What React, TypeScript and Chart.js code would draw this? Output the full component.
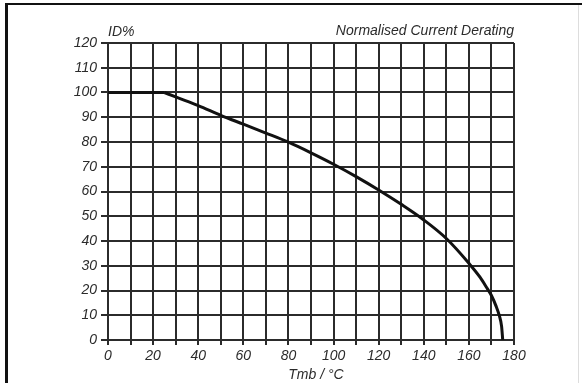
import React, { useEffect, useRef } from 'react';
import { Chart, registerables } from 'chart.js';

Chart.register(...registerables);

// Flat section of the derating curve
const flatTemp = [0, 25];
const flatPct = [100, 100];

// Derating section
const curveTemp = [25, 30, 40, 50, 60, 70, 80, 90, 100, 110, 120, 130, 140, 150, 160, 165, 168, 170, 172, 173.5, 174.5, 175];
const curvePct = [100, 98.2, 94.7, 90.8, 87.2, 83.6, 79.9, 75.6, 71, 66, 60.6, 54.8, 48.5, 41, 31, 25.3, 21, 18, 13.8, 9.8, 5.5, 0];

const xMin = 0;
const xMax = 180;
const xStep = 10;
const xLabelEvery = 20;
const yMin = 0;
const yMax = 120;
const yStep = 10;

const yAxisTitle = 'ID%';
const chartTitle = 'Normalised Current Derating';
const xAxisTitle = 'Tmb / \u00B0C';

const FONT = "'Liberation Sans', Arial, sans-serif";
const INK = '#2b2b2b';

export default function App() {
  const ref = useRef<HTMLCanvasElement | null>(null);

  useEffect(() => {
    if (!ref.current) return;

    const decor = {
      id: 'decor',
      beforeDraw(chart: any) {
        const c = chart.ctx;
        c.save();
        c.fillStyle = '#ffffff';
        c.fillRect(0, 0, chart.width, chart.height);
        c.fillStyle = '#111111';
        c.fillRect(5, 3, 3, 380);
        c.fillRect(5, 3, 577, 2);
        c.fillStyle = '#dddddd';
        c.fillRect(578, 5, 1, 378);
        c.restore();
      },
      afterDraw(chart: any) {
        const c = chart.ctx;
        const a = chart.chartArea;
        c.save();
        c.fillStyle = INK;
        c.font = `italic 14px ${FONT}`;
        c.textBaseline = 'middle';
        c.textAlign = 'left';
        c.fillText(yAxisTitle, a.left, 32);
        c.textAlign = 'right';
        c.fillText(chartTitle, a.right, 31);
        c.textAlign = 'center';
        c.fillText(xAxisTitle, 316, 375);
        c.restore();
      },
    };

    const chart = new Chart(ref.current, {
      type: 'line',
      data: {
        datasets: [
          {
            data: flatTemp.map((x, i) => ({ x, y: flatPct[i] })),
            borderColor: '#111111',
            borderWidth: 3,
            pointRadius: 0,
            tension: 0,
          },
          {
            data: curveTemp.map((x, i) => ({ x, y: curvePct[i] })),
            borderColor: '#111111',
            borderWidth: 3,
            pointRadius: 0,
            cubicInterpolationMode: 'monotone',
          },
        ],
      },
      options: {
        responsive: false,
        animation: false,
        layout: { padding: { left: 0, top: 43, right: 68, bottom: 0 } },
        plugins: {
          legend: { display: false },
          tooltip: { enabled: false },
          title: { display: false },
        },
        scales: {
          x: {
            type: 'linear',
            min: xMin,
            max: xMax,
            afterFit(scale: any) {
              scale.height = 43;
            },
            ticks: {
              stepSize: xStep,
              autoSkip: false,
              maxRotation: 0,
              padding: 3,
              color: INK,
              font: { family: FONT, size: 14, style: 'italic' },
              callback: (v: any) => (Number(v) % xLabelEvery === 0 ? String(v) : ''),
            },
            grid: { color: INK, lineWidth: 2, tickLength: 5, drawTicks: true },
            border: { color: INK, width: 2 },
          },
          y: {
            type: 'linear',
            min: yMin,
            max: yMax,
            afterFit(scale: any) {
              scale.width = 108;
            },
            ticks: {
              stepSize: yStep,
              autoSkip: false,
              padding: 4,
              color: INK,
              font: { family: FONT, size: 14, style: 'italic' },
            },
            grid: { color: INK, lineWidth: 2, tickLength: 7, drawTicks: true },
            border: { color: INK, width: 2 },
          },
        },
      },
      plugins: [decor],
    });

    return () => chart.destroy();
  }, []);

  return (
    <div style={{ position: 'fixed', left: 0, top: 0, width: 582, height: 383 }}>
      <canvas ref={ref} width={582} height={383} style={{ display: 'block', width: 582, height: 383 }} />
    </div>
  );
}
